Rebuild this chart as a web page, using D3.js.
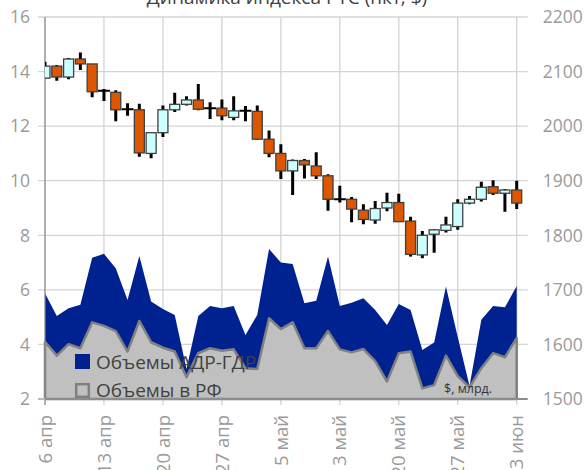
<!DOCTYPE html>
<html>
<head>
<meta charset="utf-8">
<script src="https://cdn.jsdelivr.net/npm/d3@7/dist/d3.min.js"></script>
<style>
  body { margin: 0; background: #fff; }
  text { font-family: "Open Sans", "Noto Sans", sans-serif; }
</style>
</head>
<body>
<div id="chart"></div>
<script>
// Trading days (Apr 6 - Jun 3)
var dates = ["6 апр","7 апр","8 апр","11 апр","12 апр",
             "13 апр","14 апр","15 апр","18 апр","19 апр",
             "20 апр","21 апр","22 апр","25 апр","26 апр",
             "27 апр","28 апр","29 апр","3 май","4 май",
             "5 май","6 май","10 май","11 май","12 май",
             "13 май","16 май","17 май","18 май","19 май",
             "20 май","23 май","24 май","25 май","26 май",
             "27 май","30 май","31 май","1 июн","2 июн",
             "3 июн"];

// RTS index candles (right axis)
var rtsOpen  = [2088,2110,2090,2123,2114,2065,2062,2031,2030,1950,1988,2030,2040,2048,2033,2033,2016,2028,2027,1976,1950,1918,1937,1927,1909,1866,1866,1846,1828,1850,1860,1826,1764,1802,1809,1816,1859,1866,1889,1877,1883];
var rtsHigh  = [2118,2112,2125,2135,2114,2068,2066,2042,2041,1988,2038,2061,2055,2077,2044,2049,2055,2037,2038,1992,1967,1939,1940,1952,1912,1891,1870,1857,1863,1878,1876,1834,1808,1811,1834,1866,1872,1898,1901,1885,1900];
var rtsLow   = [2087,2083,2086,2103,2053,2046,2009,2019,1944,1941,1980,2026,2038,2029,2013,2011,2011,2009,1975,1943,1903,1874,1904,1903,1845,1860,1824,1820,1821,1844,1825,1761,1758,1768,1805,1810,1857,1862,1874,1843,1848];
var rtsClose = [2110,2090,2123,2114,2063,2064,2030,2030,1951,1988,2030,2040,2048,2031,2032,2019,2028,2027,1976,1950,1918,1937,1929,1909,1866,1865,1848,1829,1849,1860,1825,1765,1800,1810,1819,1859,1866,1888,1877,1883,1859];

// Trading volumes, $ bn (left axis, stacked)
var volRF  = [4.10,3.59,4.01,3.86,4.81,4.68,4.49,3.74,4.86,4.08,3.88,3.74,2.80,3.68,3.86,3.77,3.82,3.13,3.10,4.96,4.56,4.81,3.86,3.86,4.49,3.82,3.71,3.83,3.39,2.64,3.68,3.74,2.39,2.51,3.59,2.84,2.43,3.13,3.68,3.53,4.23];
var volADR = [1.78,1.45,1.32,1.59,2.37,2.64,2.30,1.89,2.38,1.49,1.42,1.34,0.30,1.36,1.55,1.56,1.59,1.22,1.98,2.54,2.44,2.14,1.65,1.74,2.73,1.59,1.82,1.86,1.87,2.07,1.80,1.52,1.41,1.56,2.53,1.43,0.05,1.77,1.73,1.83,1.91];

var leftTicks  = [2,4,6,8,10,12,14,16];
var rightTicks = [1500,1600,1700,1800,1900,2000,2100,2200];
var seriesNames = ["Объемы АДР-ГДР", "Объемы в РФ"];
var chartTitle = "Динамика индекса РТС (пкт, $)";

// Sizes
var outer_width = 587, outer_height = 470;
var margin = {top: 17, right: 70.3, bottom: 71, left: 45};
var w = outer_width - margin.left - margin.right;
var h = outer_height - margin.top - margin.bottom;

var navy = "#002290", silver = "#c0c0c0", silverLine = "#808080";
var down = "#dc5700", up = "#ccffff";
var gridColor = "#d4d4d4", tickText = "#9a9a9a";

var svg = d3.select("#chart").append("svg")
    .attr("width", outer_width)
    .attr("height", outer_height);

var g = svg.append("g")
    .attr("transform", "translate(" + margin.left + "," + margin.top + ")");

// Scales
var idx = d3.range(dates.length);
var xScale = d3.scalePoint().domain(idx).range([0, w]);
var yLeft = d3.scaleLinear().domain([2, 16]).range([h, 0]).clamp(true);
var yRight = d3.scaleLinear().domain([1500, 2200]).range([h, 0]);

// Grid
var labelIdx = idx.filter(function(i) { return i % 5 === 0; });
g.append("g").selectAll("line").data(leftTicks.slice(1)).enter().append("line")
    .attr("x1", -7).attr("x2", w + 11)
    .attr("y1", function(d) { return yLeft(d); })
    .attr("y2", function(d) { return yLeft(d); })
    .attr("stroke", gridColor).attr("stroke-width", 1.3);
g.append("g").selectAll("line").data(labelIdx).enter().append("line")
    .attr("x1", function(d) { return xScale(d); })
    .attr("x2", function(d) { return xScale(d); })
    .attr("y1", 0).attr("y2", h + 6)
    .attr("stroke", gridColor).attr("stroke-width", 1.3);

// Stacked areas
var rows = idx.map(function(i) { return {i: i, rf: volRF[i], adr: volADR[i]}; });
var stack = d3.stack().keys(["rf", "adr"]);
var layers = stack(rows);
var area = d3.area()
    .x(function(d) { return xScale(d.data.i); })
    .y0(function(d) { return yLeft(d[0]); })
    .y1(function(d) { return yLeft(d[1]); });

g.append("path").datum(layers[1])
    .attr("d", area)
    .attr("fill", navy);
g.append("path").datum(layers[0])
    .attr("d", area)
    .attr("fill", silver)
    .attr("stroke", silverLine)
    .attr("stroke-width", 2.5)
    .attr("stroke-linejoin", "round");

// Axes lines
g.append("line").attr("x1", 0).attr("x2", 0).attr("y1", 0).attr("y2", h + 6)
    .attr("stroke", "#8c8c8c").attr("stroke-width", 1.2);
g.append("line").attr("x1", -7).attr("x2", w + 11).attr("y1", h).attr("y2", h)
    .attr("stroke", "#8c8c8c").attr("stroke-width", 2);
g.append("line").attr("x1", -7).attr("x2", 0).attr("y1", h).attr("y2", h)
    .attr("stroke", gridColor).attr("stroke-width", 1.3);

// Tick labels
g.append("g").selectAll("text").data(leftTicks).enter().append("text")
    .attr("x", -15)
    .attr("y", function(d) { return yLeft(d); })
    .attr("dy", "0.36em")
    .attr("text-anchor", "end")
    .attr("font-size", "17.5px")
    .attr("fill", tickText)
    .text(function(d) { return d; });

g.append("g").selectAll("text").data(rightTicks).enter().append("text")
    .attr("x", w + 26)
    .attr("y", function(d) { return yRight(d); })
    .attr("dy", "0.36em")
    .attr("font-size", "17.5px")
    .attr("fill", tickText)
    .text(function(d) { return d; });

g.append("g").selectAll("text").data(labelIdx).enter().append("text")
    .attr("transform", function(d) {
        return "translate(" + xScale(d) + "," + (h + 16) + ") rotate(-90)";
    })
    .attr("dy", "0.36em")
    .attr("text-anchor", "end")
    .attr("font-size", "18.5px")
    .attr("fill", tickText)
    .text(function(d) { return dates[d]; });

// Candles
g.append("clipPath").attr("id", "clip")
    .append("rect").attr("x", 0).attr("y", -5).attr("width", w + 40).attr("height", h + 10);

var candles = g.append("g").attr("clip-path", "url(#clip)")
    .selectAll("g").data(idx).enter().append("g");

candles.append("line")
    .attr("x1", function(i) { return xScale(i); })
    .attr("x2", function(i) { return xScale(i); })
    .attr("y1", function(i) { return yRight(rtsHigh[i]); })
    .attr("y2", function(i) { return yRight(rtsLow[i]); })
    .attr("stroke", "#000")
    .attr("stroke-width", 3);

candles.each(function(i) {
    var sel = d3.select(this);
    var yo = yRight(rtsOpen[i]), yc = yRight(rtsClose[i]);
    var x = xScale(i);
    if (Math.abs(yo - yc) < 1.5) {
        sel.append("line")
            .attr("x1", x - 6).attr("x2", x + 6)
            .attr("y1", yo).attr("y2", yo)
            .attr("stroke", "#000").attr("stroke-width", 2);
    } else {
        sel.append("rect")
            .attr("x", x - 5)
            .attr("y", Math.min(yo, yc))
            .attr("width", 10)
            .attr("height", Math.abs(yo - yc))
            .attr("fill", rtsClose[i] > rtsOpen[i] ? up : down)
            .attr("stroke", "#404040")
            .attr("stroke-width", 1.3);
    }
});

// Legend
var legend = g.append("g").attr("transform", "translate(30,337)");
legend.append("rect").attr("x", 0).attr("y", 0).attr("width", 15).attr("height", 15)
    .attr("fill", navy);
legend.append("text").attr("x", 21).attr("y", 15)
    .attr("font-size", "19px").attr("fill", "#404040")
    .text(seriesNames[0]);
legend.append("rect").attr("x", 1.2).attr("y", 30.2).attr("width", 12.6).attr("height", 12.6)
    .attr("fill", silver).attr("stroke", silverLine).attr("stroke-width", 2.5);
legend.append("text").attr("x", 21).attr("y", 43)
    .attr("font-size", "19px").attr("fill", "#404040")
    .text(seriesNames[1]);

// Units note
g.append("text").attr("x", 399).attr("y", 376)
    .attr("font-size", "12.5px").attr("fill", "#333")
    .text("$, млрд.");

// Title (cut by the top edge, as in the source)
svg.append("text")
    .attr("x", 287).attr("y", 4)
    .attr("text-anchor", "middle")
    .attr("font-size", "19px")
    .attr("fill", "#404040")
    .text(chartTitle);
</script>
</body>
</html>
